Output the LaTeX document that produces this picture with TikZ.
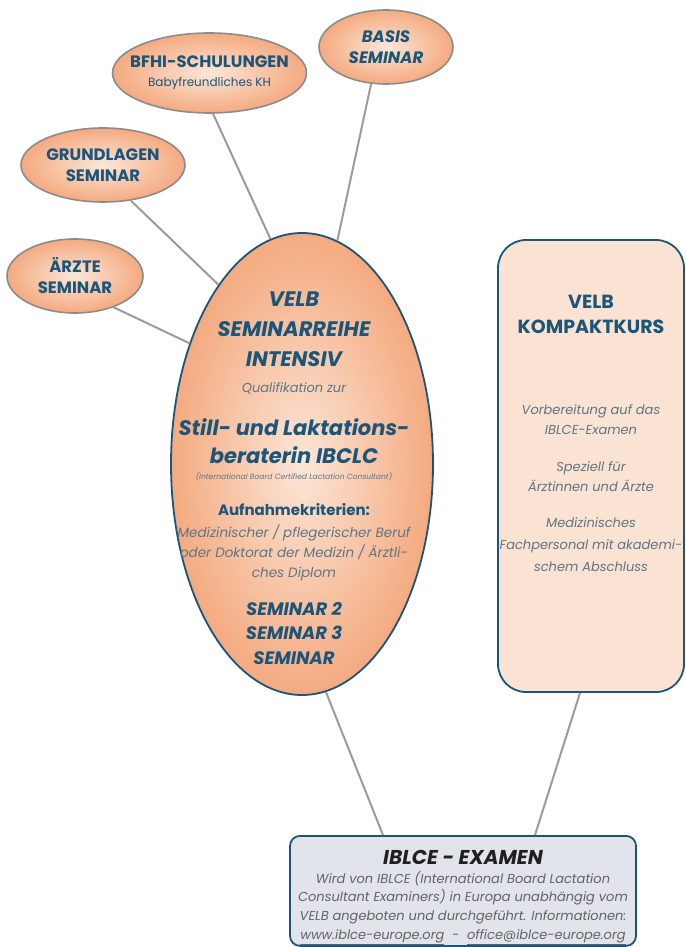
\documentclass[tikz,border=0pt]{standalone}
\usepackage{fontspec}
\setmainfont{Poppins}
\usetikzlibrary{shapes.geometric}
\usetikzlibrary{positioning}

\definecolor{velbblue}{HTML}{1B5579}
\definecolor{greytext}{HTML}{5E7484}
\definecolor{peachlight}{HTML}{FCE6D7}
\definecolor{peachdark}{HTML}{F4AA80}
\definecolor{boxpeach}{HTML}{FAE3D2}
\definecolor{examfill}{HTML}{E1E4EB}
\definecolor{linegrey}{HTML}{9B9B9B}
\definecolor{rimgrey}{HTML}{8C8C8C}
\definecolor{examtext}{HTML}{231F20}

\tikzset{
  seminar/.style={ellipse, draw=rimgrey, line width=1.6pt, inner color=peachlight,
    outer color=peachdark, inner sep=0pt, align=center, text=velbblue},
  intensiv/.style={ellipse, draw=velbblue, line width=1.8pt, inner color=peachlight,
    outer color=peachdark, inner sep=0pt},
  kompakt/.style={rectangle, rounded corners=28pt, draw=velbblue, line width=1.8pt,
    fill=boxpeach, inner sep=0pt},
  examen/.style={rectangle, rounded corners=10pt, draw=velbblue, line width=1.8pt,
    fill=examfill, inner sep=0pt},
  link/.style={draw=linegrey, line width=2pt},
  headline/.style n args={2}{align=center, text=velbblue,
    font=\fontsize{#1}{#2}\selectfont\bfseries\itshape},
  boldline/.style n args={2}{align=center, text=velbblue,
    font=\fontsize{#1}{#2}\selectfont\bfseries},
  infotext/.style n args={2}{align=center, text=greytext,
    font=\fontsize{#1}{#2}\selectfont\itshape},
}

\begin{document}
\begin{tikzpicture}[x=1pt,y=-1pt]
  \clip (0,0) rectangle (685,947);
  \useasboundingbox (0,0) rectangle (685,947);

  % Hauptellipse und Kompaktkurs
  \node[intensiv, minimum width=262pt, minimum height=462pt] (main) at (302,464) {};
  \node[kompakt, minimum width=186pt, minimum height=452pt] (kompakt) at (591,466) {};
  \node[examen, minimum width=346pt, minimum height=110pt, anchor=north] (examen) at (463,835) {};

  % kleine Seminare
  \node[seminar, headline={16.5}{21}, minimum width=134pt, minimum height=74pt] (basis) at (386,47)
    {BASIS\\ SEMINAR};
  \node[seminar, boldline={16.5}{19}, inner xsep=-18pt, minimum width=194pt, minimum height=80pt] (bfhi) at (209.5,73)
    {BFHI-SCHULUNGEN\\ {\fontsize{12}{15}\selectfont\mdseries Babyfreundliches KH}};
  \node[seminar, boldline={16.5}{21}, minimum width=164pt, minimum height=74pt] (grundlagen) at (103,165)
    {GRUNDLAGEN\\ SEMINAR};
  \node[seminar, boldline={16.5}{21}, minimum width=136pt, minimum height=74pt] (aerzte) at (75,276)
    {ÄRZTE\\ SEMINAR};

  % Verbindungen
  \draw[link] (bfhi.-85) -- (main.98);
  \draw[link] (basis.-112) -- (main.81);
  \draw[link] (grundlagen.-52) -- (main.115);
  \draw[link] (aerzte.-39) -- (main.133);
  \draw[link] (main.-84) -- ([xshift=-80pt]examen.north);
  \draw[link] ([xshift=-11pt]kompakt.south) -- ([xshift=72pt]examen.north);

  % Texte Hauptellipse
  \node[headline={21}{30}] (titel) at (294,329) {VELB\\ SEMINARREIHE\\ INTENSIV};
  \node[infotext={13}{16}] (quali) at (294,388) {Qualifikation zur};
  \node[headline={21}{28}] (ibclc) at (294,441) {Still- und Laktations-\\ beraterin IBCLC};
  \node[infotext={7.6}{9}] (ibclclang) at (294,477) {(International Board Certified Lactation Consultant)};
  \node[boldline={15}{18}] (kriterien) at (294,510) {Aufnahmekriterien:};
  \node[infotext={13.5}{20}] (beruf) at (294,553) {Medizinischer / pflegerischer Beruf\\
    oder Doktorat der Medizin / Ärztli-\\ ches Diplom};
  \node[headline={18}{24.5}] (seminare) at (294,633) {SEMINAR 2\\ SEMINAR 3\\ SEMINAR};

  % Texte Kompaktkurs
  \node[boldline={19}{25}] (ktitel) at (591,314) {VELB\\ KOMPAKTKURS};
  \node[infotext={13}{20}] (kvorb) at (591,420) {Vorbereitung auf das\\ IBLCE-Examen};
  \node[infotext={13}{20}] (kaerzte) at (591,477) {Speziell für\\ Ärztinnen und Ärzte};
  \node[infotext={13}{22}] (kfach) at (591,545) {Medizinisches\\ Fachpersonal mit akademi-\\ schem Abschluss};

  % Texte Examen
  \node[headline={20}{24}, text=examtext] (etitel) at (463,857) {IBLCE - EXAMEN};
  \node[infotext={13}{18.7}, text=examtext!70] (einfo) at (463,908) {Wird von IBLCE (International Board Lactation\\
    Consultant Examiners) in Europa unabhängig vom\\
    VELB angeboten und durchgeführt. Informationen:\\
    \underline{www.iblce-europe.org}\ \ -\ \ \underline{office@iblce-europe.org}};
\end{tikzpicture}
\end{document}
